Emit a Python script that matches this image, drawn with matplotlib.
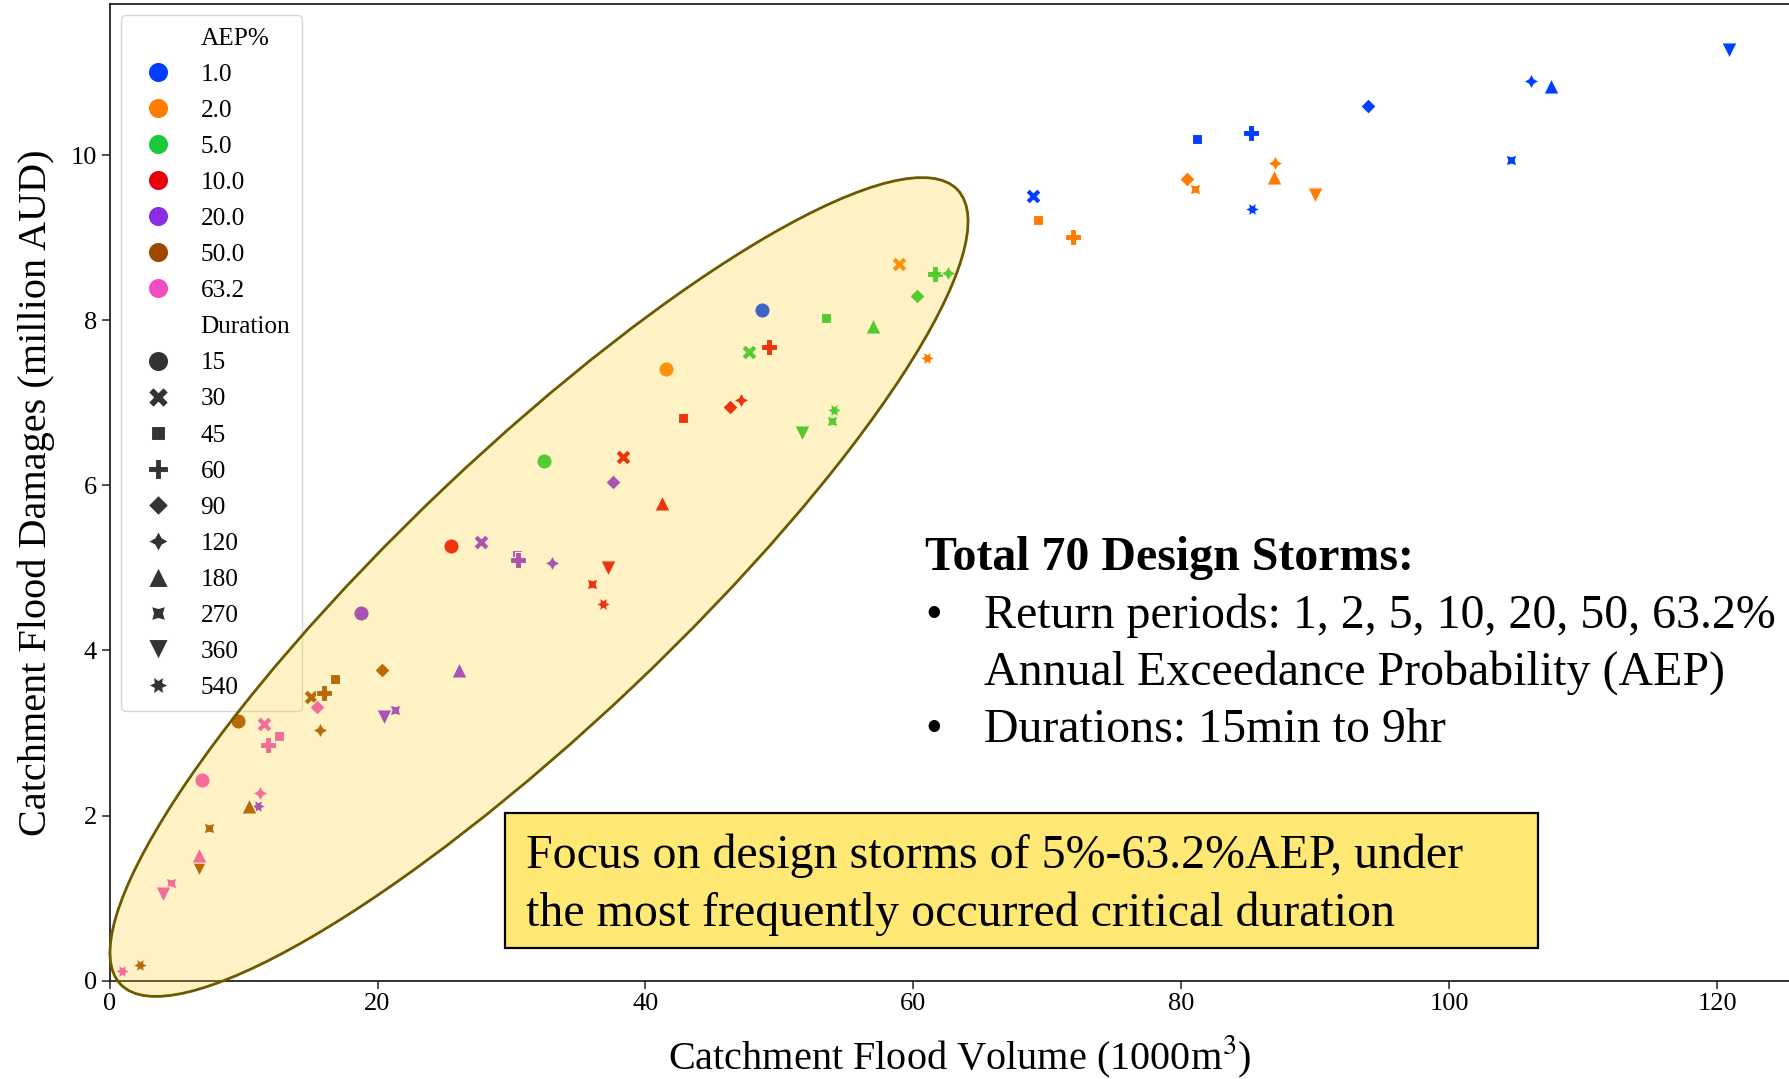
import matplotlib
matplotlib.use('Agg')
import matplotlib.pyplot as plt
from matplotlib.patches import Ellipse, Rectangle
from matplotlib.lines import Line2D

plt.rcParams['font.family'] = 'Liberation Serif'
plt.rcParams['mathtext.fontset'] = 'stix'

# AEP levels (hue) and storm durations in minutes (marker style)
aep_labels = ['1.0', '2.0', '5.0', '10.0', '20.0', '50.0', '63.2']
durations = [15, 30, 45, 60, 90, 120, 180, 270, 360, 540]

# catchment flood volume (1000 m3) and damages (million AUD), one value per duration
vol_aep1 = [48.7, 68.95, 81.2, 85.2, 93.9, 106.1, 107.6, 104.6, 120.9, 85.3]
dmg_aep1 = [8.12, 9.50, 10.19, 10.27, 10.60, 10.90, 10.84, 9.94, 11.27, 9.35]
vol_aep2 = [41.5, 58.9, 69.3, 71.9, 80.4, 87.0, 86.9, 81.0, 90.0, 61.05]
dmg_aep2 = [7.41, 8.68, 9.21, 9.01, 9.71, 9.90, 9.74, 9.59, 9.52, 7.54]
vol_aep5 = [32.4, 47.7, 53.5, 61.6, 60.3, 62.6, 57.0, 53.9, 51.7, 54.1]
dmg_aep5 = [6.29, 7.61, 8.03, 8.56, 8.29, 8.57, 7.93, 6.78, 6.64, 6.91]
vol_aep10 = [25.5, 38.3, 42.8, 49.2, 46.3, 47.1, 41.2, 36.0, 37.2, 36.8]
dmg_aep10 = [5.26, 6.34, 6.82, 7.67, 6.95, 7.03, 5.79, 4.81, 5.00, 4.56]
vol_aep20 = [18.8, 27.7, 30.4, 30.5, 37.6, 33.05, 26.1, 21.3, 20.5, 11.1]
dmg_aep20 = [4.45, 5.31, 5.15, 5.10, 6.04, 5.06, 3.76, 3.28, 3.19, 2.11]
vol_aep50 = [9.6, 15.0, 16.85, 16.0, 20.3, 15.7, 10.4, 7.45, 6.7, 2.27]
dmg_aep50 = [3.15, 3.43, 3.65, 3.49, 3.76, 3.03, 2.11, 1.85, 1.36, 0.19]
vol_aep63 = [6.9, 11.5, 12.65, 11.85, 15.5, 11.25, 6.7, 4.6, 3.96, 0.95]
dmg_aep63 = [2.43, 3.11, 2.96, 2.85, 3.31, 2.27, 1.52, 1.18, 1.05, 0.12]

volumes = [vol_aep1, vol_aep2, vol_aep5, vol_aep10, vol_aep20, vol_aep50, vol_aep63]
damages = [dmg_aep1, dmg_aep2, dmg_aep5, dmg_aep10, dmg_aep20, dmg_aep50, dmg_aep63]

colors = ['#023eff', '#ff7c00', '#1ac938', '#e8000b', '#8b2be2', '#9f4800', '#f14cc1']
markers = ['o', 'X', (4, 0, 45), 'P', (4, 0, 0), (4, 1, 0), '^', (4, 1, 45), 'v', (6, 1, 30)]

W, H = 1790, 1079
fig = plt.figure(figsize=(W / 100, H / 100), dpi=100)
ax = fig.add_axes([109.6 / W, 98.4 / H, 1700 / W, 976.5 / H])

for vols, dmgs, c in zip(volumes, damages, colors):
    for v, d, m in zip(vols, dmgs, markers):
        ax.scatter(v, d, marker=m, s=120, color=c, edgecolor='white', linewidth=0.8, zorder=2)

ax.set_xlim(0, 126.9)
ax.set_ylim(0, 11.83)
ax.set_xticks([0, 20, 40, 60, 80, 100, 120])
ax.set_yticks([0, 2, 4, 6, 8, 10])
ax.spines['right'].set_visible(False)
for s in ax.spines.values():
    s.set_linewidth(1.3)
    s.set_color('#222222')
ax.tick_params(labelsize=19, length=5.5, width=1.1, color='#222222')

ax.set_ylabel('Catchment Flood Damages (million AUD)', fontsize=29)
ax.set_xlabel('Catchment Flood Volume (1000m$^3$)', fontsize=29)
ax.yaxis.set_label_coords(-0.032, 0.5)
ax.xaxis.set_label_coords(0.5, -0.054)

# legend built like seaborn: hue block then style block
handles = [Line2D([], [], linestyle='none', marker='')]
labels = ['AEP%']
for lab, c in zip(aep_labels, colors):
    handles.append(Line2D([], [], linestyle='none', marker='o', markersize=14.5,
                          color=c, markeredgecolor='white', markeredgewidth=0.8))
    labels.append(lab)
handles.append(Line2D([], [], linestyle='none', marker=''))
labels.append('Duration')
for dur, m in zip(durations, markers):
    handles.append(Line2D([], [], linestyle='none', marker=m, markersize=14.5,
                          color='#333333', markeredgecolor='white', markeredgewidth=0.8))
    labels.append(str(dur))
ax.legend(handles, labels, loc='upper left', fontsize=18.2, labelspacing=0.53,
          borderaxespad=0.45, borderpad=0.45, handletextpad=0.7)

# highlight ellipse drawn over everything
ell_fill = Ellipse((5.39, 4.92), 11.54, 2.74, angle=43.5, transform=fig.dpi_scale_trans,
                   facecolor='#ffd21f', alpha=0.25, edgecolor='none', zorder=5)
ell_edge = Ellipse((5.39, 4.92), 11.54, 2.74, angle=43.5, transform=fig.dpi_scale_trans,
                   fill=False, edgecolor='#6b5a00', linewidth=2.0, zorder=6)
fig.add_artist(ell_fill)
fig.add_artist(ell_edge)


def fx(x):
    return x / W


def fy(y):
    return 1 - y / H


fig.text(fx(925), fy(570), 'Total 70 Design Storms:', fontsize=34.5, fontweight='bold',
         va='baseline', zorder=7)
bullet_lines = ['Return periods: 1, 2, 5, 10, 20, 50, 63.2%',
                'Annual Exceedance Probability (AEP)',
                'Durations: 15min to 9hr']
fig.text(fx(925), fy(628), '\u2022', fontsize=34.5, va='baseline', zorder=7)
fig.text(fx(925), fy(742), '\u2022', fontsize=34.5, va='baseline', zorder=7)
for i, line in enumerate(bullet_lines):
    fig.text(fx(984), fy(628 + 57 * i), line, fontsize=34.5, va='baseline', zorder=7)

box = Rectangle((fx(505), fy(948)), (1538 - 505) / W, (948 - 813) / H,
                transform=fig.transFigure, facecolor='#ffe873', edgecolor='black',
                linewidth=1.6, zorder=7)
fig.add_artist(box)
fig.text(fx(526), fy(868), 'Focus on design storms of 5%-63.2%AEP, under', fontsize=34.5,
         va='baseline', zorder=8)
fig.text(fx(526), fy(926), 'the most frequently occurred critical duration', fontsize=34.5,
         va='baseline', zorder=8)

fig.savefig('out.png', dpi=100)
